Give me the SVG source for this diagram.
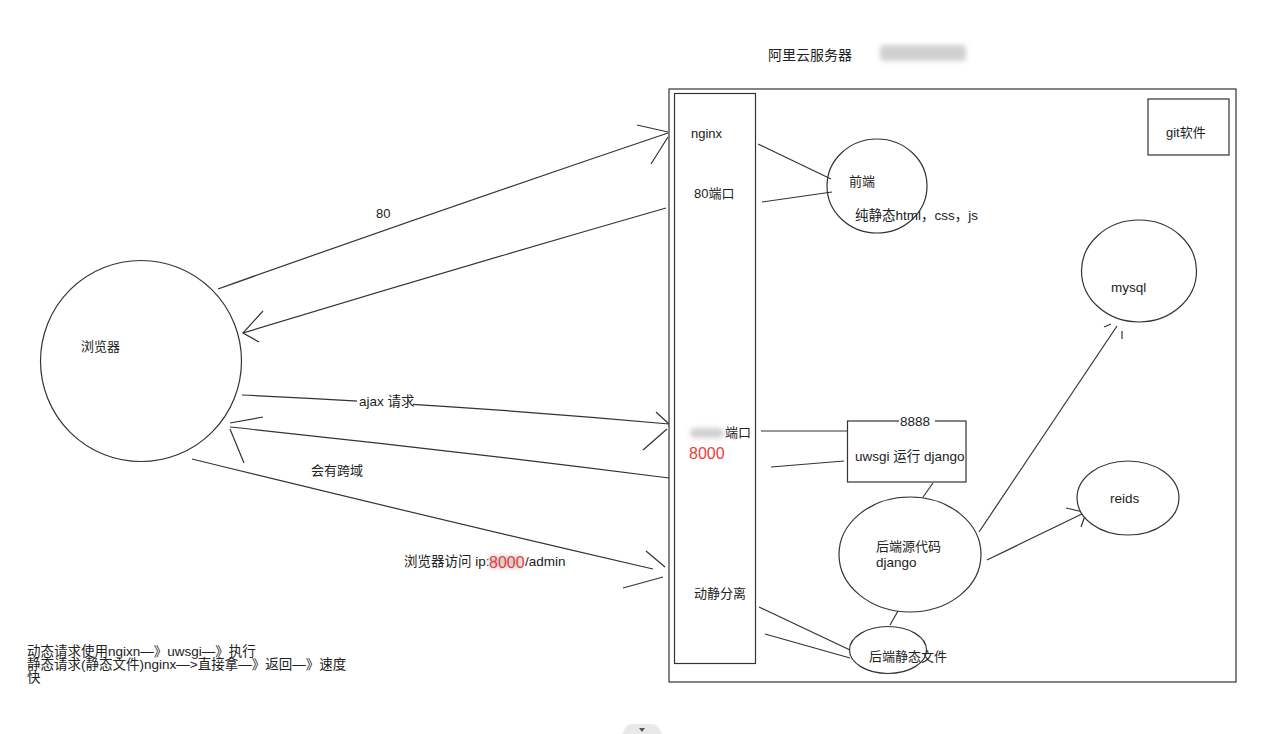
<svg xmlns="http://www.w3.org/2000/svg" width="1275" height="734" viewBox="0 0 1275 734">
<style>
text{font-family:"Liberation Sans","Noto Sans CJK SC",sans-serif;font-size:13px;fill:#222}
.w{font-size:13.5px}
.s{fill:none;stroke:#333;stroke-width:1.2}
.n{fill:#fff;stroke:#333;stroke-width:1.2}
.red{fill:#f03a3a;font-size:16px}
.blur{fill:#d0d0d0;filter:url(#bl)}
</style>
<defs>
<filter id="bl" x="-30%" y="-60%" width="160%" height="220%"><feGaussianBlur stdDeviation="2.5"/></filter>
</defs>
<rect width="1275" height="734" fill="#fff"/>

<g id="title">
<text x="768" y="60" style="font-size:14px">阿里云服务器</text>
<rect class="blur" x="880" y="45" width="86" height="16" rx="4"/>
</g>

<g id="server">
<rect class="n" x="669" y="89" width="567" height="593"/>
</g>
<g id="nginx-column">
<rect class="n" x="674.5" y="93.5" width="81" height="570"/>
<text x="691" y="138">nginx</text>
<text x="694" y="198">80端口</text>
<rect class="blur" x="690" y="428" width="34" height="10" rx="5"/>
<text x="725" y="437">端口</text>
<text class="red" x="689" y="459">8000</text>
<text x="694" y="598">动静分离</text>
</g>

<g id="connectors">
<path class="s" d="M218 289 Q440 210 668 133"/>
<path class="s" d="M637 125 L668 132 M651 164 L668 137"/>
<text x="376" y="218">80</text>
<path class="s" d="M666 208 Q450 270 243 333"/>
<path class="s" d="M263 311 L243 333 L259 342"/>
<path class="s" d="M242 395 Q460 405 669 424"/>
<path class="s" d="M656 412 L669 424 M643 450 L667 429"/>
<path class="s" d="M669 478 Q450 450 230 427"/>
<path class="s" d="M230 423 L263 417 M230 429 L244 463"/>
<path class="s" d="M192 459 Q420 515 653 569"/>
<path class="s" d="M646 551 L665 567 M623 588 L663 577"/>
<path class="s" d="M758 144 L831 179"/>
<path class="s" d="M762 202 L832 192"/>
<path class="s" d="M761 431 L847 431"/>
<path class="s" d="M771 467 L844 461"/>
<path class="s" d="M933 483 L923 497"/>
<path class="s" d="M898 611 L890 625"/>
<path class="s" d="M759 607 L850 650"/>
<path class="s" d="M765 634 L850 658"/>
<path class="s" d="M979 532 L1117 326"/>
<path class="s" d="M1104 327 L1111 324 M1122 331 L1122 339"/>
<path class="s" d="M987 560 L1086 512"/>
<path class="s" d="M1066 508 L1083 512 M1081 527 L1086 513"/>
<rect x="357" y="395" width="56" height="14" fill="#fff"/>
<text class="w" x="359" y="406">ajax 请求</text>
<text x="311" y="475">会有跨域</text>
<text class="w" x="404" y="566">浏览器访问 ip:</text>
<rect class="blur" x="489" y="556" width="33" height="12" rx="3"/>
<text class="red" x="489" y="568">8000</text>
<text class="w" x="525" y="566">/admin</text>
</g>

<g id="browser">
<circle class="n" cx="141" cy="361" r="100.5"/>
<text x="81" y="351">浏览器</text>
</g>

<g id="frontend">
<ellipse class="s" cx="877" cy="186" rx="50" ry="47"/>
<text x="849" y="186">前端</text>
<text class="w" x="855" y="220">纯静态html，css，js</text>
</g>

<g id="git">
<rect class="n" x="1148" y="99" width="81" height="56"/>
<text x="1166" y="137">git软件</text>
</g>

<g id="mysql">
<ellipse class="n" cx="1139" cy="271" rx="57.5" ry="51"/>
<text class="w" x="1111" y="292">mysql</text>
</g>

<g id="uwsgi">
<rect class="n" x="847.5" y="421" width="118.5" height="61"/>
<rect x="899" y="414" width="36" height="13" fill="#fff"/>
<text class="w" x="900" y="426">8888</text>
<text class="w" x="855" y="461">uwsgi 运行 django</text>
</g>

<g id="reids">
<ellipse class="n" cx="1128" cy="498" rx="51" ry="37"/>
<text class="w" x="1110" y="503">reids</text>
</g>

<g id="django">
<ellipse class="n" cx="910" cy="554.5" rx="71" ry="57.5"/>
<text x="876" y="551">后端源代码</text>
<text class="w" x="876" y="567">django</text>
</g>

<g id="static-files">
<ellipse class="s" cx="888" cy="650" rx="38.5" ry="23.5"/>
<text x="869" y="661">后端静态文件</text>
</g>

<g id="notes">
<text class="w" x="27" y="656">动态请求使用ngixn—》uwsgi—》执行</text>
<text class="w" x="27" y="669">静态请求(静态文件)nginx—&gt;直接拿—》返回—》速度</text>
<text class="w" x="27" y="682">快</text>
</g>

<g id="tab">
<path d="M622 734 L626 727 Q628 724 632 724 L652 724 Q656 724 658 727 L662 734 Z" fill="#e9e9ec"/>
<polygon points="639,728 645,728 642,732" fill="#555"/>
</g>
</svg>
